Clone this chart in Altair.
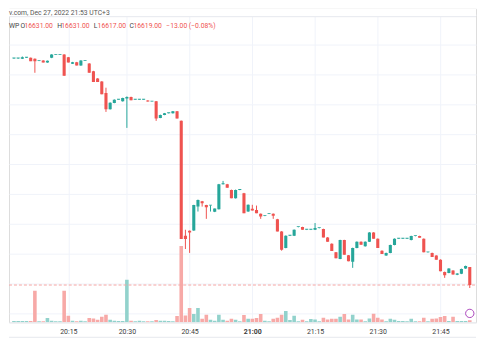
import altair as alt
import pandas as pd
import numpy as np

# ---- data (1-minute candles, BTC/USD, Dec 27 2022) ----
first_idx = -57  # candle index relative to the 21:00 candle
opens = [16770.7, 16770.7, 16770.5, 16771.2, 16771.1, 16770.5, 16769.1, 16769.3, 16768.0, 16771.1,
         16773.1, 16773.1, 16773.3, 16771.5, 16767.1, 16768.2, 16766.0, 16769.1, 16767.3, 16762.2,
         16757.3, 16755.3, 16747.5, 16736.7, 16740.9, 16743.1, 16742.0, 16743.8, 16744.9, 16743.1,
         16743.1, 16743.1, 16742.5, 16741.8, 16742.0, 16730.9, 16732.9, 16734.0, 16734.0, 16735.3,
         16728.9, 16652.0, 16655.3, 16655.5, 16671.5, 16675.1, 16672.5, 16672.2, 16668.0, 16669.8,
         16686.5, 16686.5, 16682.7, 16677.1, 16682.7, 16680.5, 16668.2, 16670.0, 16669.3, 16666.7,
         16665.3, 16666.7, 16666.7, 16663.1, 16654.9, 16643.8, 16652.0, 16652.0, 16657.8, 16657.8,
         16656.0, 16656.0, 16656.0, 16657.1, 16656.5, 16650.9, 16646.7, 16640.9, 16636.5, 16649.1,
         16638.9, 16634.5, 16643.8, 16648.0, 16644.9, 16648.0, 16654.2, 16650.0, 16642.0, 16638.7,
         16640.5, 16645.8, 16650.0, 16650.0, 16650.0, 16649.1, 16651.8, 16651.8, 16650.0, 16640.9,
         16640.5, 16638.7, 16636.0, 16627.8, 16627.1, 16628.7, 16625.8, 16626.5, 16630.0, 16631.0]
highs = [16771.0, 16771.0, 16772.0, 16771.5, 16771.3, 16770.7, 16769.3, 16769.5, 16769.3, 16773.5,
         16773.3, 16773.3, 16773.5, 16771.7, 16768.4, 16768.4, 16769.5, 16769.3, 16767.5, 16762.4,
         16757.5, 16755.5, 16751.1, 16741.3, 16743.3, 16743.3, 16744.4, 16745.3, 16745.1, 16743.3,
         16743.3, 16743.3, 16742.7, 16742.0, 16742.2, 16733.1, 16734.2, 16734.2, 16735.5, 16735.5,
         16729.1, 16656.0, 16655.5, 16672.7, 16676.2, 16675.3, 16672.7, 16672.4, 16670.2, 16686.7,
         16688.7, 16686.7, 16682.9, 16682.9, 16682.9, 16680.7, 16672.9, 16672.7, 16672.2, 16666.9,
         16665.5, 16666.9, 16666.9, 16663.3, 16655.1, 16652.2, 16652.2, 16656.2, 16658.0, 16658.0,
         16656.2, 16656.2, 16660.5, 16657.3, 16656.7, 16651.1, 16646.9, 16641.1, 16649.3, 16649.3,
         16639.1, 16644.0, 16648.2, 16648.2, 16648.2, 16654.4, 16654.4, 16650.2, 16642.2, 16640.7,
         16646.0, 16650.2, 16650.2, 16650.2, 16650.2, 16652.0, 16652.0, 16652.0, 16650.2, 16641.1,
         16640.7, 16638.9, 16636.2, 16628.0, 16630.2, 16628.9, 16626.9, 16630.0, 16632.0, 16631.0]
lows = [16770.5, 16770.5, 16770.3, 16771.0, 16768.9, 16761.1, 16768.9, 16768.0, 16767.8, 16770.9,
        16773.0, 16773.0, 16759.1, 16768.0, 16767.0, 16766.0, 16765.8, 16769.0, 16761.1, 16754.9,
        16754.9, 16746.7, 16734.9, 16736.5, 16740.7, 16743.0, 16741.8, 16724.2, 16742.7, 16743.0,
        16743.0, 16743.0, 16741.8, 16741.7, 16728.9, 16730.7, 16732.7, 16733.9, 16733.8, 16730.5,
        16649.8, 16643.1, 16640.5, 16655.3, 16668.2, 16671.5, 16663.3, 16668.2, 16667.8, 16669.6,
        16686.3, 16684.2, 16677.1, 16676.9, 16682.5, 16667.1, 16668.0, 16668.9, 16667.1, 16663.3,
        16665.1, 16666.5, 16663.3, 16654.9, 16642.0, 16643.6, 16651.8, 16651.8, 16657.6, 16656.0,
        16655.8, 16655.8, 16655.8, 16656.9, 16650.9, 16648.0, 16641.8, 16636.9, 16636.3, 16639.3,
        16634.9, 16630.5, 16643.6, 16646.0, 16644.7, 16647.8, 16650.0, 16643.8, 16639.8, 16638.5,
        16640.3, 16645.6, 16649.8, 16649.8, 16649.8, 16648.9, 16651.6, 16650.7, 16640.9, 16640.7,
        16637.8, 16636.0, 16628.2, 16623.8, 16626.9, 16626.0, 16625.6, 16626.3, 16629.8, 16617.0]
closes = [16770.7, 16770.7, 16771.5, 16771.2, 16768.9, 16768.9, 16769.1, 16768.0, 16769.1, 16773.3,
          16773.1, 16773.1, 16759.1, 16768.0, 16768.2, 16766.0, 16769.3, 16769.1, 16761.1, 16754.9,
          16754.9, 16746.7, 16736.7, 16741.1, 16743.1, 16743.1, 16744.2, 16744.9, 16742.7, 16743.1,
          16743.1, 16743.1, 16741.8, 16741.8, 16730.5, 16732.9, 16734.0, 16734.0, 16735.3, 16730.5,
          16649.8, 16649.8, 16654.2, 16672.5, 16676.0, 16673.8, 16671.1, 16672.2, 16670.2, 16686.5,
          16686.5, 16684.2, 16677.1, 16682.7, 16682.7, 16667.1, 16672.7, 16668.9, 16667.1, 16664.9,
          16665.3, 16666.7, 16665.3, 16654.9, 16642.7, 16652.0, 16652.0, 16656.0, 16657.8, 16656.0,
          16656.0, 16656.0, 16657.1, 16657.1, 16650.9, 16648.0, 16641.8, 16636.9, 16649.1, 16639.3,
          16634.9, 16643.8, 16648.0, 16646.0, 16648.0, 16654.2, 16650.0, 16643.8, 16639.8, 16640.5,
          16645.8, 16650.0, 16650.0, 16650.0, 16650.0, 16651.8, 16651.8, 16650.7, 16640.9, 16640.9,
          16637.8, 16636.0, 16628.2, 16625.5, 16630.0, 16626.0, 16626.7, 16629.8, 16631.8, 16619.0]
volumes = [1.4, 1.4, 1.4, 1.4, 1.4, 31.7, 1.0, 1.0, 4.4, 1.7,
           1.0, 1.0, 31.7, 6.7, 1.7, 1.2, 1.7, 1.0, 4.4, 4.0,
           2.7, 5.7, 7.7, 2.7, 1.7, 1.4, 1.4, 42.7, 1.7, 1.0,
           1.7, 1.0, 1.2, 1.0, 2.4, 1.7, 1.7, 1.4, 1.2, 6.4,
           76.7, 7.0, 14.4, 8.4, 14.4, 3.7, 7.7, 2.7, 1.7, 7.7,
           2.7, 1.7, 3.7, 2.7, 1.2, 7.4, 3.7, 3.7, 4.4, 8.4,
           1.7, 1.2, 3.7, 4.7, 7.7, 11.4, 2.4, 6.7, 1.2, 2.7,
           1.2, 3.4, 3.0, 1.2, 4.7, 3.0, 3.7, 3.7, 5.7, 8.4,
           3.0, 7.7, 3.0, 3.0, 1.2, 4.0, 8.7, 4.7, 3.0, 1.2,
           3.7, 2.7, 1.4, 1.4, 1.2, 3.7, 1.2, 1.2, 4.7, 1.2,
           3.7, 4.0, 5.4, 6.4, 1.4, 5.7, 1.4, 1.4, 1.4, 2.0]
tick_idx = [-44, -30, -15, 0, 15, 30, 45]
tick_labels = ["20:15", "20:30", "20:45", "21:00", "21:15", "21:30", "21:45"]
grid_prices = [16600, 16620, 16640, 16660, 16680, 16700, 16720, 16740, 16760, 16780, 16800]
header = "v.com, Dec 27, 2022 21:53 UTC+3"
symbol_tail = "WP"
ohlc_labels = ["O", "H", "L", "C"]
ohlc_values = ["16631.00", "16631.00", "16617.00", "16619.00"]
change_text = "\u221213.00 (\u22120.08%)"

# ---- frame ----
n = len(opens)
df = pd.DataFrame({
    "i": np.arange(first_idx, first_idx + n),
    "open": opens, "high": highs, "low": lows, "close": closes, "volume": volumes,
})
df["dir"] = np.where(df["close"] >= df["open"], "up", "down")
df["vdir"] = df["dir"]
df["body_lo"] = np.minimum(df["open"], df["close"])
df["body_hi"] = np.maximum(np.maximum(df["open"], df["close"]), df["body_lo"] + 0.6)
last = df.tail(1)

W, H = 469, 315
UP, DOWN = "#26a69a", "#ef5350"
GRID = "#f0f3fa"
FONT = "Roboto"

xscale = alt.Scale(domain=[-57.0, 52.3], nice=False, zero=False)
pscale = alt.Scale(domain=[16594, 16804], nice=False, zero=False)
vscale = alt.Scale(domain=[0, H], nice=False, zero=True)

label_expr = "[" + ",".join(f"'{s}'" for s in tick_labels) + "][indexof([" + \
    ",".join(str(v) for v in tick_idx) + "], datum.value)]"

x_axis = alt.Axis(values=tick_idx, labelExpr=label_expr, grid=True, gridColor=GRID,
                  domain=True, domainColor="#eceef3", ticks=False, labelFontSize=7,
                  labelFont=FONT, labelColor="#3c3c3c", labelPadding=5, title=None,
                  labelFontWeight={"condition": {"test": "datum.value == 0", "value": "bold"},
                                   "value": "normal"})
x_plain = alt.X("i:Q", scale=xscale)

base = alt.Chart(df)

grid_layer = base.mark_rule(opacity=0).encode(
    x=alt.X("i:Q", scale=xscale, axis=x_axis),
    y=alt.Y("close:Q", scale=pscale,
            axis=alt.Axis(values=grid_prices, labels=False, ticks=False, domain=False,
                          grid=True, gridColor=GRID, title=None)),
)

color = alt.Color("dir:N", scale=alt.Scale(domain=["up", "down"], range=[UP, DOWN]), legend=None)
vcolor = alt.Fill("vdir:N", scale=alt.Scale(domain=["up", "down"], range=["#92d2cc", "#f7a9a7"]),
                  legend=None)

vol = base.mark_bar(size=3.6, clip=True).encode(
    x=x_plain,
    y=alt.Y("volume:Q", scale=vscale, axis=None),
    fill=vcolor,
)

price_line = alt.Chart(last).mark_rule(color="#f6a5a3", strokeDash=[3, 2], strokeWidth=1).encode(
    y=alt.Y("close:Q", scale=pscale, axis=None),
    x=alt.value(0), x2=alt.value(W),
)

wick = base.mark_rule(strokeWidth=1, clip=True).encode(
    x=x_plain,
    y=alt.Y("low:Q", scale=pscale, axis=None), y2="high:Q",
    color=color,
)
body = base.mark_bar(size=3.1, clip=True).encode(
    x=x_plain,
    y=alt.Y("body_lo:Q", scale=pscale, axis=None), y2="body_hi:Q",
    color=color,
)

icon = alt.Chart(last).mark_point(shape="circle", size=70, filled=True, fill="white",
                                  stroke="#ab47bc", strokeWidth=1, opacity=1, clip=True).encode(
    x=x_plain, y=alt.value(306),
)

one = pd.DataFrame({"a": [0]})
band = alt.Chart(one).mark_rect(color="white").encode(
    x=alt.value(0), x2=alt.value(W), y=alt.value(0), y2=alt.value(8))
band_line = alt.Chart(one).mark_rule(color="#e6e8ee", strokeWidth=1).encode(
    x=alt.value(0), x2=alt.value(W), y=alt.value(8))
bottom_line = alt.Chart(one).mark_rule(color="#e6e8ee", strokeWidth=1).encode(
    x=alt.value(0), x2=alt.value(W), y=alt.value(H + 15))

FS = 6.8
texts = [alt.Chart(one).mark_text(align="left", baseline="top", fontSize=FS, font=FONT,
                                  color="#555").encode(x=alt.value(0), y=alt.value(1),
                                                       text=alt.value(header))]
row_y = 17
seg_x_labels = [11.5, 48.5, 85, 121]
seg_x_values = [15.5, 52.5, 89, 125]
texts.append(alt.Chart(one).mark_text(align="left", baseline="middle", fontSize=FS, font=FONT,
                                      color="#444").encode(x=alt.value(0), y=alt.value(row_y),
                                                           text=alt.value(symbol_tail)))
for lab, lx, val, vx in zip(ohlc_labels, seg_x_labels, ohlc_values, seg_x_values):
    texts.append(alt.Chart(one).mark_text(align="left", baseline="middle", fontSize=FS, font=FONT,
                                          color="#444").encode(x=alt.value(lx), y=alt.value(row_y),
                                                               text=alt.value(lab)))
    texts.append(alt.Chart(one).mark_text(align="left", baseline="middle", fontSize=FS, font=FONT,
                                          color=DOWN).encode(x=alt.value(vx), y=alt.value(row_y),
                                                             text=alt.value(val)))
texts.append(alt.Chart(one).mark_text(align="left", baseline="middle", fontSize=FS, font=FONT,
                                      color=DOWN).encode(x=alt.value(158), y=alt.value(row_y),
                                                         text=alt.value(change_text)))

chart = alt.layer(grid_layer, vol, price_line, wick, body, icon, band, band_line, bottom_line,
                  *texts).resolve_scale(y="independent").properties(
    width=W, height=H, padding=0,
).configure_view(stroke=None).configure(background="white")

chart.save("out.html", embed_options={"renderer": "svg", "actions": False})
